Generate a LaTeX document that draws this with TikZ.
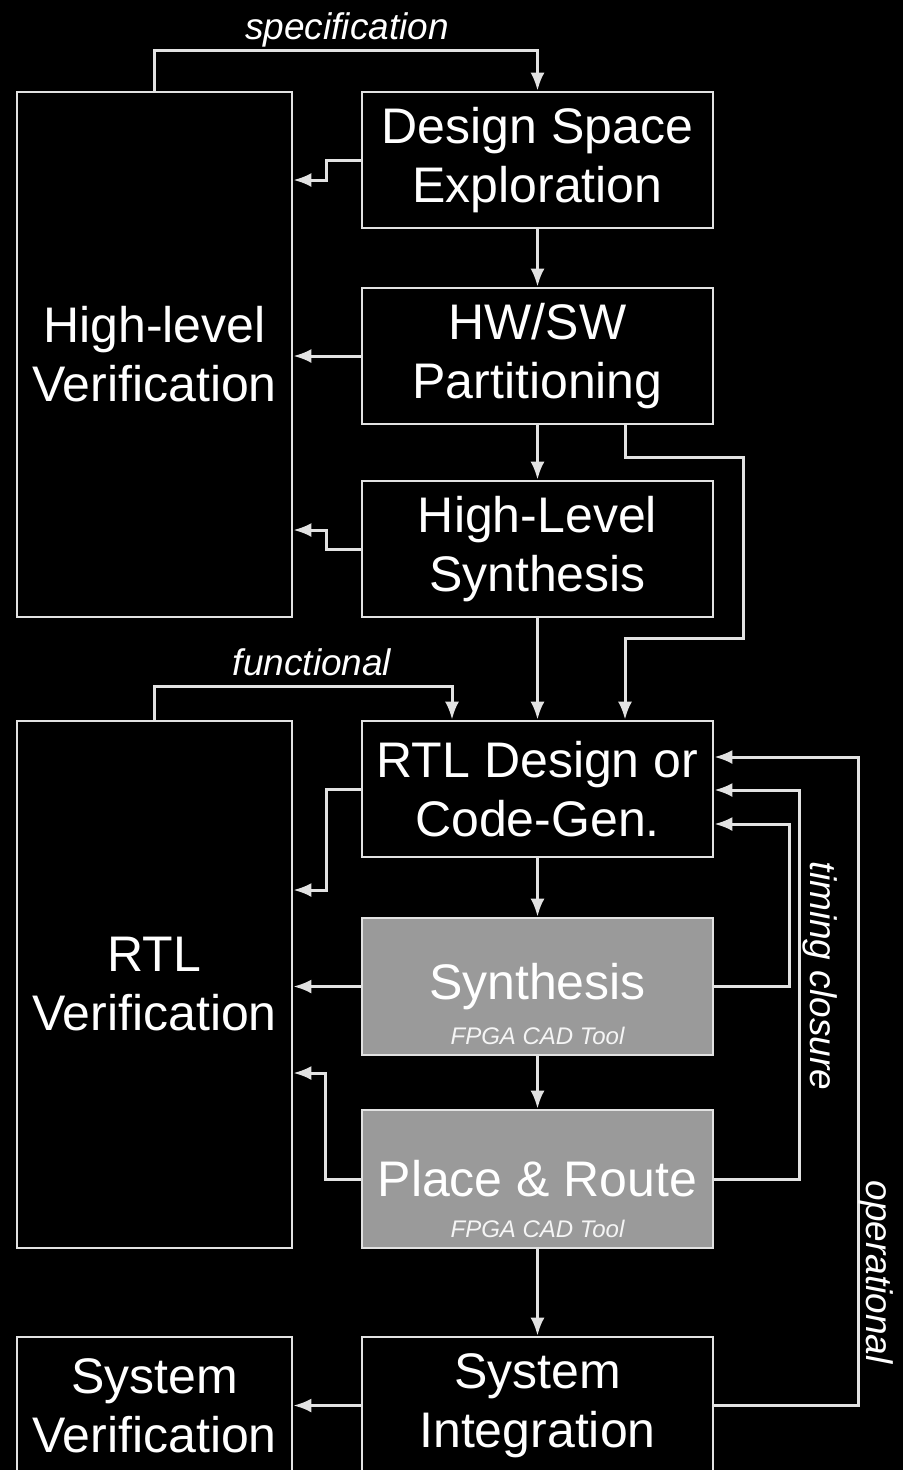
\documentclass[tikz,border=0pt]{standalone}
\usepackage{fontspec}
\setmainfont{Liberation Sans}
\usetikzlibrary{arrows.meta}
\definecolor{wire}{HTML}{E2E2E2}
\definecolor{cadgray}{HTML}{9A9A9A}
\begin{document}
\begin{tikzpicture}[x=1pt,y=-1pt,
  stage/.style={draw=wire, line width=2.6pt, text=white, align=center,
    inner sep=0pt, minimum width=351pt, minimum height=136pt,
    font=\fontsize{50}{59}\selectfont},
  verif/.style={stage, minimum width=275pt},
  cad/.style={stage, fill=cadgray},
  flow/.style={draw=wire, line width=3pt, -{Latex[length=18pt,width=14pt]}},
  note/.style={text=white, font=\itshape\fontsize{37}{40}\selectfont, inner sep=0pt},
  tool/.style={text=white!92!gray, font=\itshape\fontsize{24}{26}\selectfont, inner sep=0pt}]

% canvas
\path[use as bounding box, fill=black] (0,0) rectangle (903,1470);

% verification column
\node[verif, minimum height=525pt] (hlv) at (154.5,354.5) {High-level\\Verification};
\node[verif, minimum height=527pt] (rtlv) at (154.5,984.5) {RTL\\Verification};
\node[verif, minimum height=137pt] (sysv) at (154.5,1405.5) {System\\Verification};

% design flow column
\node[stage] (dse)  at (537.5,160) {Design Space\\Exploration};
\node[stage] (hwsw) at (537.5,356) {HW/SW\\Partitioning};
\node[stage] (hls)  at (537.5,549) {High-Level\\Synthesis};
\node[stage] (rtl)  at (537.5,789) {RTL Design or\\Code-Gen.};
\node[cad, minimum height=137pt] (syn) at (537.5,986.5) {Synthesis};
\node[cad, minimum height=138pt] (pr)  at (537.5,1179) {Place \& Route};
\node[stage, minimum height=137pt] (sysi) at (537.5,1405.5) {System\\Integration};

\node[tool] (syntool) at (537.5,1036) {FPGA CAD Tool};
\node[tool] (prtool)  at (537.5,1229) {FPGA CAD Tool};

% main flow
\draw[flow] (dse.south) -- (hwsw.north);
\draw[flow] (hwsw.south) -- (hls.north);
\draw[flow] (hls.south) -- (rtl.north);
\draw[flow] (hwsw.south -| 625,0) |- (743,457) |- (625,638) -- (rtl.north -| 625,0);
\draw[flow] (rtl.south) -- (syn.north);
\draw[flow] (syn.south) -- (pr.north);
\draw[flow] (pr.south) -- (sysi.north);

% feedback into the design steps
\draw[flow] (hlv.north) -- ++(0,-40) -| (dse.north);
\draw[flow] (rtlv.north) -- ++(0,-33) -| (rtl.north -| 452,0);
\draw[flow] (syn.east) -| (789,824) -- (rtl.east |- 0,824);
\draw[flow] (pr.east) -| (799,790) -- (rtl.east |- 0,790);
\draw[flow] (sysi.east) -| (858,757) -- (rtl.east |- 0,757);

% hand-off to verification
\draw[flow] (dse.west) -- ++(-34,0) |- (hlv.east |- 0,180);
\draw[flow] (hwsw.west) -- (hwsw.west -| hlv.east);
\draw[flow] (hls.west) -- ++(-34,0) |- (hlv.east |- 0,530);
\draw[flow] (rtl.west) -- ++(-34,0) |- (rtlv.east |- 0,890);
\draw[flow] (syn.west) -- (syn.west -| rtlv.east);
\draw[flow] (pr.west) -- ++(-35,0) |- (rtlv.east |- 0,1073);
\draw[flow] (sysi.west) -- (sysv.east);

% loop labels
\node[note, anchor=base] (spec) at (347,39) {specification};
\node[note, anchor=base] (func) at (312,675) {functional};
\node[note, anchor=base, rotate=-90] (timing) at (810,976) {timing closure};
\node[note, anchor=base, rotate=-90] (oper) at (866,1272) {operational};
\end{tikzpicture}
\end{document}
